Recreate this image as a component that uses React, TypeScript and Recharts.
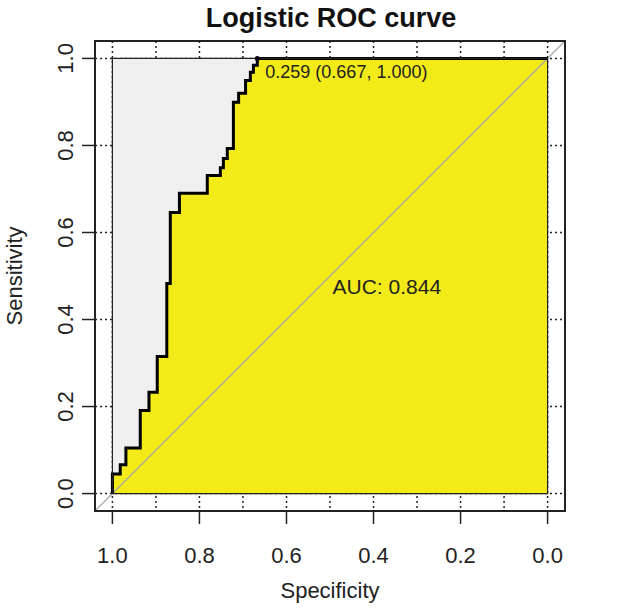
import React from "react"
import {
    ComposedChart, Line, Area, XAxis, YAxis, CartesianGrid,
    ReferenceArea, ReferenceLine, ReferenceDot, Label
} from "recharts"

// ROC curve corners (specificity, sensitivity)
const specificity = [1.0, 1.0, 0.982, 0.969, 0.936, 0.916, 0.897, 0.875, 0.867, 0.846, 0.782, 0.752, 0.745, 0.736, 0.722, 0.710, 0.694, 0.683, 0.676, 0.667, 0.0]
const sensitivity = [0.0, 0.045, 0.066, 0.105, 0.191, 0.233, 0.315, 0.483, 0.646, 0.690, 0.731, 0.749, 0.770, 0.793, 0.899, 0.920, 0.949, 0.968, 0.984, 1.0, 1.0]

const axisTicks = [0, 0.2, 0.4, 0.6, 0.8, 1.0]
const gridX = [0, 0.1, 0.2, 0.3, 0.4, 0.5, 0.6, 0.7, 0.8, 0.9, 1.0]
const gridY = [0, 0.2, 0.4, 0.6, 0.8, 1.0]

const bestThreshold = { spec: 0.667, sens: 1.0, label: "0.259 (0.667, 1.000)" }
const aucText = "AUC: 0.844"

const data = specificity.map((s, i) => ({ spec: s, sens: sensitivity[i] }))

const FONT = '"Liberation Sans", Arial, sans-serif'
const INK = "#222"
const YELLOW = "#f3eb17"
const GREY = "#efefef"

const XTick = ({ x, y, payload }: any) => (
    <text x={x} y={y} textAnchor="middle" dy="0.35em" fontSize={22} fill={INK} fontFamily={FONT}>
        {Number(payload.value).toFixed(1)}
    </text>
)

const YTick = ({ x, y, payload }: any) => (
    <text transform={`translate(${x},${y}) rotate(-90)`} textAnchor="middle" dy="0.35em" fontSize={22} fill={INK} fontFamily={FONT}>
        {Number(payload.value).toFixed(1)}
    </text>
)

export default function App() {
    return (
        <div style={{ position: "absolute", left: 0, top: 0, width: 633, height: 611, background: "#fff" }}>
            <div style={{
                position: "absolute", top: 5, left: 0, width: 662, textAlign: "center",
                fontFamily: FONT, fontWeight: "bold", fontSize: 27, lineHeight: "27px", color: "#111"
            }}>
                Logistic ROC curve
            </div>
            <ComposedChart width={633} height={611} data={data} margin={{ top: 41, right: 68, left: 0, bottom: 0 }}>
                <CartesianGrid verticalValues={gridX} horizontalValues={gridY} stroke={INK} strokeDasharray="2 3" strokeWidth={1.5} />
                <XAxis
                    dataKey="spec" type="number" domain={[-0.04, 1.04]} reversed allowDataOverflow
                    ticks={axisTicks} tick={<XTick />} tickSize={13} tickMargin={31}
                    tickLine={{ stroke: INK, strokeWidth: 1.5 }} axisLine={false} height={100}
                >
                    <Label content={({ viewBox }: any) => (
                        <text x={viewBox.x + viewBox.width / 2} y={viewBox.y + 87} textAnchor="middle" fontSize={22} fill={INK} fontFamily={FONT}>
                            Specificity
                        </text>
                    )} />
                </XAxis>
                <YAxis
                    type="number" domain={[-0.04, 1.04]} allowDataOverflow
                    ticks={axisTicks} tick={<YTick />} tickSize={13} tickMargin={17}
                    tickLine={{ stroke: INK, strokeWidth: 1.5 }} axisLine={false} width={95}
                >
                    <Label content={({ viewBox }: any) => (
                        <text transform={`translate(14,${viewBox.y + viewBox.height / 2}) rotate(-90)`} textAnchor="middle" dy="0.35em" fontSize={22} fill={INK} fontFamily={FONT}>
                            Sensitivity
                        </text>
                    )} />
                </YAxis>

                <ReferenceArea x1={0} x2={1} y1={0} y2={1} fill={GREY} fillOpacity={1} stroke="none" />
                <Area dataKey="sens" type="stepAfter" baseValue={0} fill={YELLOW} fillOpacity={1} stroke="none" isAnimationActive={false} />
                <ReferenceArea x1={0} x2={1} y1={0} y2={1} fill="none" stroke={INK} strokeWidth={1.2} zIndex={450} />
                <ReferenceLine segment={[{ x: 1.04, y: -0.04 }, { x: -0.04, y: 1.04 }]} stroke="#a8a8a8" strokeWidth={1.3} ifOverflow="visible" />
                <Line dataKey="sens" type="stepAfter" stroke="#000" strokeWidth={3} dot={false} isAnimationActive={false} />

                <ReferenceArea x1={-0.04} x2={1.04} y1={-0.04} y2={1.04} fill="none" stroke={INK} strokeWidth={2} zIndex={450} />

                <ReferenceDot x={bestThreshold.spec} y={bestThreshold.sens} r={2.5} fill="#000" stroke="none"
                    label={{
                        content: ({ viewBox }: any) => (
                            <text x={viewBox.x + viewBox.width / 2 + 8} y={viewBox.y + viewBox.height / 2 + 20} fontSize={18} fill={INK} fontFamily={FONT}>
                                {bestThreshold.label}
                            </text>
                        )
                    }} />
                <ReferenceDot x={0.5} y={0.5} r={1} fill="none" stroke="none"
                    label={{
                        content: ({ viewBox }: any) => (
                            <text x={viewBox.x + viewBox.width / 2 + 2.5} y={viewBox.y + viewBox.height / 2 + 17.5} fontSize={21} fill={INK} fontFamily={FONT}>
                                {aucText}
                            </text>
                        )
                    }} />
            </ComposedChart>
        </div>
    )
}
